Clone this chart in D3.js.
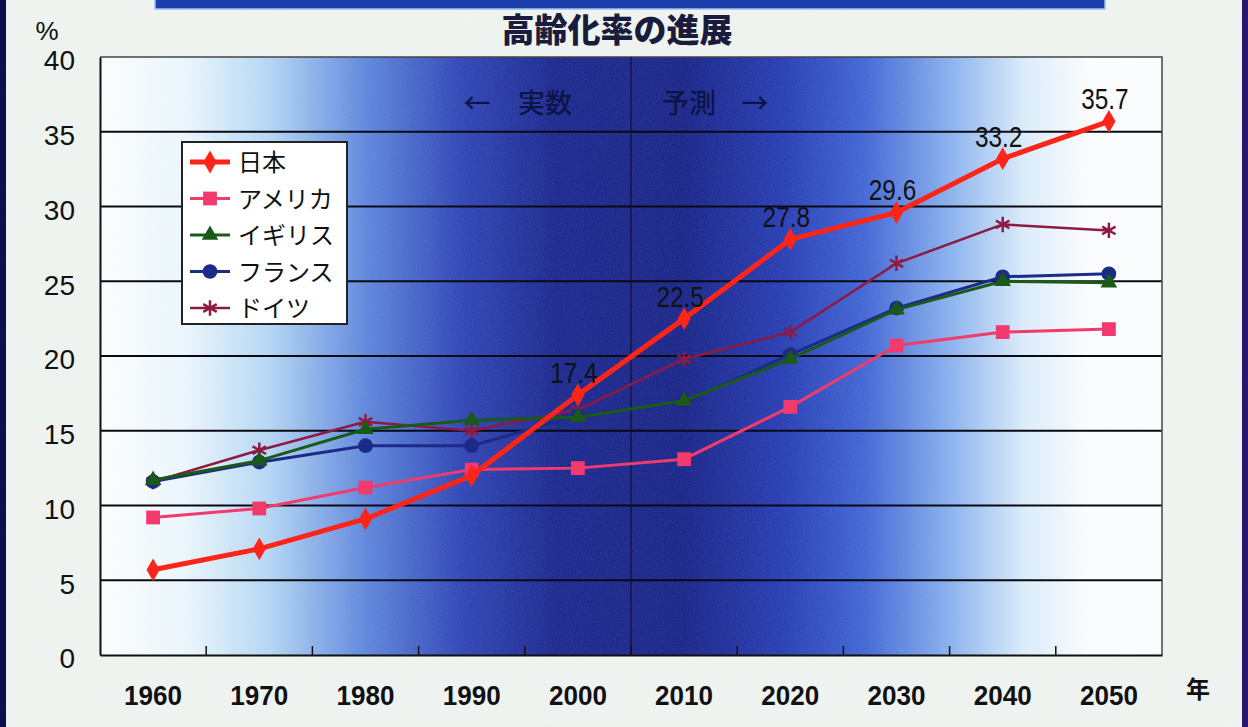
<!DOCTYPE html>
<html>
<head>
<meta charset="utf-8">
<script src="https://cdn.jsdelivr.net/npm/d3@7"></script>
<style>
  html, body { margin: 0; padding: 0; background: #f3f6f1; }
  svg { display: block; }
</style>
</head>
<body>
<div id="viz"></div>
<script>
(function () {
  'use strict';

  // data
  var years = ['1960', '1970', '1980', '1990', '2000', '2010', '2020', '2030', '2040', '2050'];
  var japan   = [5.7, 7.1, 9.1, 12.0, 17.4, 22.5, 27.8, 29.6, 33.2, 35.7];
  var america = [9.2, 9.8, 11.2, 12.4, 12.5, 13.1, 16.6, 20.7, 21.6, 21.8];
  var britain = [11.7, 13.0, 15.1, 15.7, 15.9, 17.0, 19.8, 23.1, 25.0, 24.9];
  var france  = [11.6, 12.9, 14.0, 14.0, 16.0, 16.9, 20.1, 23.2, 25.3, 25.5];
  var germany = [11.6, 13.7, 15.6, 15.0, 16.4, 19.8, 21.6, 26.2, 28.8, 28.4];
  var seriesNames = ['日本', 'アメリカ', 'イギリス', 'フランス', 'ドイツ'];
  var yTicks = [0, 5, 10, 15, 20, 25, 30, 35, 40];
  var labelFrom = '2000'; // japan values labelled from this year on

  var W = 1248, H = 727;
  var m = { left: 100, right: 86, top: 57, bottom: 72 };

  var svg = d3.select('#viz').append('svg')
    .attr('width', W).attr('height', H);

  var defs = svg.append('defs');
  var grad = defs.append('linearGradient').attr('id', 'bg')
    .attr('x1', '0%').attr('x2', '100%').attr('y1', '0%').attr('y2', '0%');
  [[0, '#ffffff'], [0.08, '#eef8fd'], [0.16, '#b4d6f4'], [0.25, '#5c84dc'],
   [0.34, '#2b40b4'], [0.43, '#16218a'], [0.55, '#141e84'], [0.64, '#2136b0'],
   [0.72, '#3d62d4'], [0.80, '#88b0ee'], [0.87, '#dcedfb'], [0.93, '#ffffff'], [1, '#ffffff']]
    .forEach(function (s) {
      grad.append('stop').attr('offset', s[0]).attr('stop-color', s[1]);
    });

  var grain = defs.append('filter').attr('id', 'grain')
    .attr('x', 0).attr('y', 0).attr('width', '100%').attr('height', '100%');
  grain.append('feTurbulence').attr('type', 'fractalNoise')
    .attr('baseFrequency', 0.9).attr('numOctaves', 2).attr('result', 'n');
  grain.append('feColorMatrix').attr('in', 'n').attr('type', 'matrix')
    .attr('values', '0 0 0 0 0.6  0 0 0 0 0.7  0 0 0 0 0.8  0 0 0 0.22 0');
  grain.append('feComposite').attr('in2', 'SourceGraphic').attr('operator', 'in');

  // page frame
  svg.append('rect').attr('width', W).attr('height', H).attr('fill', '#f3f6f1');
  svg.append('rect').attr('width', W).attr('height', H).attr('fill', '#fff').attr('filter', 'url(#grain)');
  svg.append('rect').attr('x', 0).attr('y', 0).attr('width', 6).attr('height', H).attr('fill', '#0b1150');
  svg.append('rect').attr('x', W - 6).attr('y', 0).attr('width', 6).attr('height', H).attr('fill', '#2a1870');
  svg.append('rect').attr('x', 155).attr('y', -2).attr('width', 950).attr('height', 11)
    .attr('fill', '#1d3fae').attr('stroke', '#9fc0f0').attr('stroke-width', 1.5);

  var iw = W - m.left - m.right, ih = H - m.top - m.bottom;
  var g = svg.append('g').attr('transform', 'translate(' + m.left + ',' + m.top + ')');

  var x = d3.scaleBand().domain(years).range([0, iw]);
  var y = d3.scaleLinear().domain([0, 40]).range([ih, 0]);

  g.append('rect').attr('width', iw).attr('height', ih).attr('fill', 'url(#bg)');
  g.append('rect').attr('width', iw).attr('height', ih).attr('fill', '#fff')
    .attr('filter', 'url(#grain)').attr('opacity', 0.7);

  // gridlines
  g.append('g').selectAll('line').data(yTicks.slice(1, -1)).join('line')
    .attr('x1', 0).attr('x2', iw)
    .attr('y1', function (d) { return y(d); }).attr('y2', function (d) { return y(d); })
    .attr('stroke', '#0a0a14').attr('stroke-width', 2);

  // plot frame (top/right)
  g.append('path').attr('d', 'M0,0H' + iw + 'V' + ih)
    .attr('fill', 'none').attr('stroke', '#444').attr('stroke-width', 1.5);

  // actual / forecast divider
  var splitX = x('2010');
  g.append('line').attr('x1', splitX).attr('x2', splitX).attr('y1', 0).attr('y2', ih)
    .attr('stroke', '#101030').attr('stroke-width', 1.2);

  var noteFont = '500 27px "Noto Sans CJK JP", sans-serif';
  var noteY = y(36.4) + 2;
  g.append('text').attr('x', splitX - 154).attr('y', noteY).attr('text-anchor', 'middle')
    .attr('fill', '#0c1448').style('font', noteFont).text('←');
  g.append('text').attr('x', splitX - 59).attr('y', noteY).attr('text-anchor', 'end')
    .attr('fill', '#0c1448').style('font', noteFont).text('実数');
  g.append('text').attr('x', splitX + 31).attr('y', noteY)
    .attr('fill', '#0c1448').style('font', noteFont).text('予測');
  g.append('text').attr('x', splitX + 124).attr('y', noteY).attr('text-anchor', 'middle')
    .attr('fill', '#0c1448').style('font', noteFont).text('→');

  // axes
  var yAxis = g.append('g').call(d3.axisLeft(y).tickValues(yTicks).tickSize(0).tickPadding(25));
  yAxis.select('.domain').attr('stroke', '#111').attr('stroke-width', 2);
  yAxis.selectAll('text').style('font', '28px "Liberation Sans", Arial, sans-serif')
    .attr('fill', '#111').attr('y', 4);

  var xAxis = g.append('g').attr('transform', 'translate(0,' + ih + ')')
    .call(d3.axisBottom(x).tickSize(0).tickPadding(30));
  xAxis.select('.domain').attr('stroke', '#111').attr('stroke-width', 2);
  xAxis.selectAll('text')
    .style('font', 'bold 28px "Liberation Sans", Arial, sans-serif')
    .attr('fill', '#111')
    .attr('textLength', 58).attr('lengthAdjust', 'spacingAndGlyphs');
  // inward ticks on band boundaries
  g.append('g').selectAll('line').data(years.slice(1)).join('line')
    .attr('x1', function (d) { return x(d); }).attr('x2', function (d) { return x(d); })
    .attr('y1', ih).attr('y2', ih - 9)
    .attr('stroke', '#111').attr('stroke-width', 1.5);

  svg.append('text').attr('x', 47).attr('y', 40).attr('text-anchor', 'middle')
    .style('font', '26px "Liberation Sans", Arial, sans-serif').attr('fill', '#111').text('%');
  svg.append('text').attr('x', 1198).attr('y', 698).attr('text-anchor', 'middle')
    .style('font', 'bold 24px "Noto Sans CJK JP", sans-serif').attr('fill', '#111').text('年');
  svg.append('text').attr('x', 617).attr('y', 42).attr('text-anchor', 'middle')
    .style('font', '900 33px "Noto Sans CJK JP", sans-serif').attr('fill', '#1a1c3c')
    .text('高齢化率の進展');

  // series
  var series = [
    { name: seriesNames[0], values: japan,   color: '#ff2418', width: 5,   marker: 'diamond' },
    { name: seriesNames[1], values: america, color: '#f23a6c', width: 3,   marker: 'square' },
    { name: seriesNames[2], values: britain, color: '#1b5a16', width: 3,   marker: 'triangle' },
    { name: seriesNames[3], values: france,  color: '#1c2a88', width: 3,   marker: 'circle' },
    { name: seriesNames[4], values: germany, color: '#8e1a44', width: 2.5, marker: 'star' }
  ];

  var cx = function (i) { return x(years[i]) + x.bandwidth() / 2; };
  var line = d3.line().x(function (d, i) { return cx(i); }).y(function (d) { return y(d); });

  function drawMarker(sel, type, color, size) {
    if (type === 'star') {
      var r = size * 0.55;
      sel.append('path')
        .attr('d', 'M0,' + (-r) + 'L0,' + r +
          'M' + (-r * 0.87) + ',' + (-r * 0.5) + 'L' + (r * 0.87) + ',' + (r * 0.5) +
          'M' + (-r * 0.87) + ',' + (r * 0.5) + 'L' + (r * 0.87) + ',' + (-r * 0.5))
        .attr('stroke', color).attr('stroke-width', 2.5).attr('fill', 'none');
      return;
    }
    var sym = { diamond: d3.symbolDiamond, square: d3.symbolSquare, triangle: d3.symbolTriangle, circle: d3.symbolCircle }[type];
    var area = { diamond: 150, square: 190, triangle: 120, circle: 170 }[type];
    sel.append('path').attr('d', d3.symbol().type(sym).size(area * size / 14)())
      .attr('fill', color);
  }

  // draw in reverse so Japan ends on top
  series.slice().reverse().forEach(function (s) {
    var sg = g.append('g');
    sg.append('path').datum(s.values).attr('d', line)
      .attr('fill', 'none').attr('stroke', s.color).attr('stroke-width', s.width)
      .attr('stroke-linejoin', 'round');
    s.values.forEach(function (v, i) {
      var mk = sg.append('g').attr('transform', 'translate(' + cx(i) + ',' + y(v) + ')');
      drawMarker(mk, s.marker, s.color, 14);
    });
  });

  // japan data labels
  var startIdx = years.indexOf(labelFrom);
  g.append('g').selectAll('text').data(japan.slice(startIdx)).join('text')
    .attr('transform', function (d, i) {
      return 'translate(' + (cx(i + startIdx) - 4) + ',' + (y(d) - 12) + ') scale(0.84,1)';
    })
    .attr('text-anchor', 'middle')
    .style('font', '29px "Liberation Sans", Arial, sans-serif')
    .attr('fill', '#111')
    .text(function (d) { return d.toFixed(1); });

  // legend
  var lg = svg.append('g').attr('transform', 'translate(182,142)');
  lg.append('rect').attr('width', 165).attr('height', 182)
    .attr('fill', '#fff').attr('stroke', '#222').attr('stroke-width', 2);
  series.forEach(function (s, i) {
    var row = lg.append('g').attr('transform', 'translate(0,' + (20 + i * 36.5) + ')');
    row.append('line').attr('x1', 8).attr('x2', 48).attr('y1', 0).attr('y2', 0)
      .attr('stroke', s.color).attr('stroke-width', s.width);
    drawMarker(row.append('g').attr('transform', 'translate(28,0)'), s.marker, s.color, 14);
    row.append('text').attr('x', 56).attr('y', 9)
      .style('font', '24px "Noto Sans CJK JP", sans-serif').attr('fill', '#111')
      .text(s.name);
  });
}());
</script>
</body>
</html>
